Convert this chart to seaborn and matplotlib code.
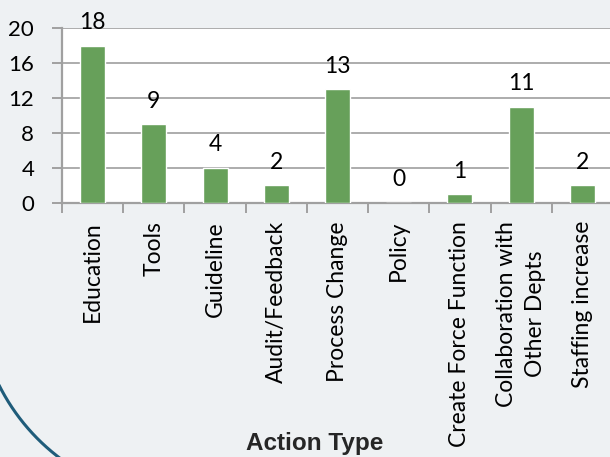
import numpy as np
import pandas as pd
import matplotlib
matplotlib.use("Agg")
import matplotlib.pyplot as plt
from matplotlib.lines import Line2D
import seaborn as sns

categories = ["Education", "Tools", "Guideline", "Audit/Feedback", "Process Change",
              "Policy", "Create Force Function", "Collaboration with\nOther Depts",
              "Staffing increase"]
counts = [18, 9, 4, 2, 13, 0, 1, 11, 2]
yticks = [0, 4, 8, 12, 16, 20]
xlabel = "Action Type"

sns.set_style("white")
plt.rcParams["font.family"] = ["Lato", "DejaVu Sans"]

W, H = 610, 457
fig = plt.figure(figsize=(W / 100, H / 100), dpi=100)
bg = "#EEF1F3"
fig.patch.set_facecolor(bg)

# decorative arc (slide background shape) in pixel space
cx, cy, r = 185.0, 165.0, 208.0
th = np.radians(np.linspace(198, 250, 200))
px = cx + r * np.cos(th)
py = cy + r * np.sin(th)
fig.add_artist(Line2D(px / W, py / H, transform=fig.transFigure, color="#1F5C7A",
                      lw=2.2, zorder=0))

ax = fig.add_axes([62 / W, (H - 203) / H, (613 - 62) / W, (203 - 28) / H])
ax.set_facecolor("white")

df = pd.DataFrame({"cat": categories, "val": counts})
sns.barplot(data=df, x="cat", y="val", color="#67A05A", width=0.41, ax=ax,
            saturation=1, zorder=3)

ax.set_ylim(0, 20)
ax.set_xlim(-0.5, len(categories) - 0.5)
ax.set_yticks(yticks)
ax.yaxis.grid(True, color="#A6A6A6", lw=1.3, zorder=0)
ax.set_axisbelow(True)

for s in ["top", "right"]:
    ax.spines[s].set_visible(False)
for s in ["left", "bottom"]:
    ax.spines[s].set_color("#A0A0A0")
    ax.spines[s].set_linewidth(1.6)

ax.tick_params(axis="y", length=7, width=1.4, color="#A0A0A0", pad=13,
               labelsize=16, labelcolor="black", direction="out", left=True)
ax.set_xticks(np.arange(len(categories)))
ax.set_xticklabels(categories, rotation=90, fontsize=16.5, linespacing=1.5)
ax.tick_params(axis="x", which="major", length=0, pad=13, labelcolor="black")
ax.set_xticks(np.arange(len(categories) + 1) - 0.5, minor=True)
ax.tick_params(axis="x", which="minor", length=7, width=1.4, color="#A0A0A0",
               direction="out", bottom=True)
ax.set_xlabel("")
ax.set_ylabel("")

for i, v in enumerate(counts):
    ax.annotate(str(v), (i, v), xytext=(0, 12), textcoords="offset points",
                ha="center", va="baseline", fontsize=16.5, color="black",
                annotation_clip=False)

fig.text(315 / W, (H - 450) / H, xlabel, ha="center", va="baseline",
         fontsize=17.5, fontweight="bold", family=["Liberation Sans", "DejaVu Sans"])

fig.savefig("out.png", dpi=100, facecolor=bg)
